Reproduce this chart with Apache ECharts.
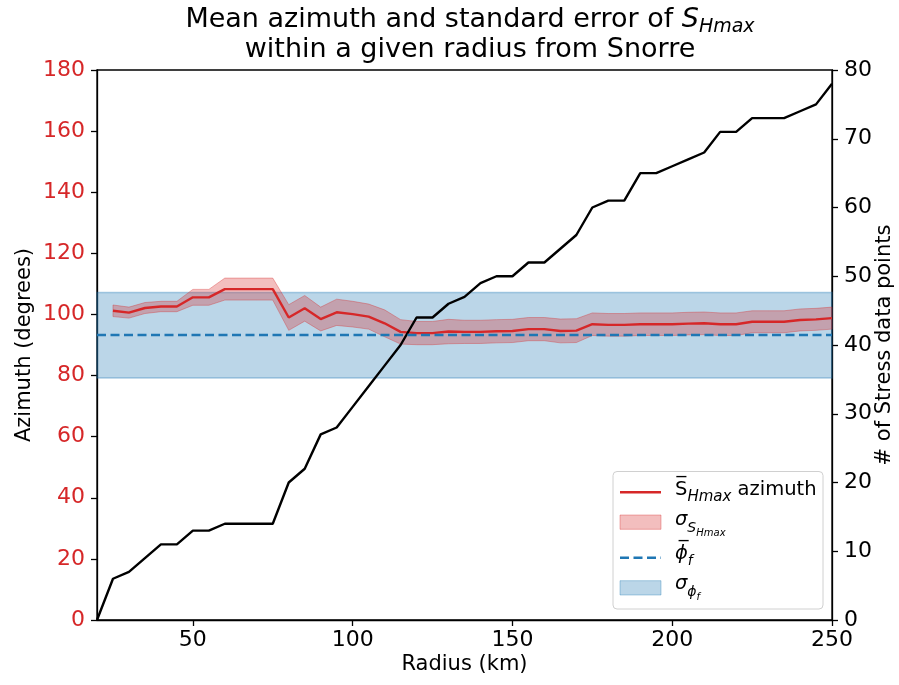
<!DOCTYPE html>
<html>
<head>
<meta charset="utf-8">
<script src="https://cdn.jsdelivr.net/npm/echarts@6/dist/echarts.min.js"></script>
<style>html,body{margin:0;padding:0;background:#fff;overflow:hidden}#c{width:899px;height:685px}</style>
</head>
<body>
<div id="c"></div>
<script>
// Radius (km) for the data-point count
const radius = [20,25,30,35,40,45,50,55,60,65,70,75,80,85,90,95,100,105,110,115,120,125,130,135,140,145,150,155,160,165,170,175,180,185,190,195,200,205,210,215,220,225,230,235,240,245,250];
// Number of stress data points within radius
const counts = [0,6,7,9,11,11,13,13,14,14,14,14,20,22,27,28,31,34,37,40,44,44,46,47,49,50,50,52,52,54,56,60,61,61,65,65,66,67,68,71,71,73,73,73,74,75,78];
// Radius for azimuth stats (starts at 25 km)
const radiusAz = [25,30,35,40,45,50,55,60,65,70,75,80,85,90,95,100,105,110,115,120,125,130,135,140,145,150,155,160,165,170,175,180,185,190,195,200,205,210,215,220,225,230,235,240,245,250];
// Mean SHmax azimuth (degrees)
const meanAz = [101.2,100.6,102.1,102.6,102.6,105.6,105.6,108.3,108.3,108.3,108.3,99.0,102.0,98.5,100.7,100.1,99.3,97.1,94.3,93.9,93.9,94.4,94.3,94.3,94.5,94.6,95.2,95.2,94.6,94.7,96.8,96.6,96.6,96.8,96.8,96.8,97.0,97.1,96.8,96.8,97.6,97.6,97.6,98.2,98.4,98.8];
// Standard error (half-width of band)
const stdErr = [1.9,1.8,1.8,1.7,1.7,2.6,2.6,3.6,3.6,3.6,3.6,4.2,4.2,3.9,4.3,4.2,4.1,4.4,4.0,3.8,3.8,4.0,3.8,3.8,3.8,3.8,3.8,3.8,3.9,3.9,3.7,3.7,3.7,3.7,3.7,3.7,3.7,3.7,3.7,3.7,3.6,3.6,3.6,3.6,3.6,3.6];
// Fault azimuth mean and its sigma
const phiMean = 93.2;
const phiSigma = 14.0;
// Tick values
const xTicks = [50,100,150,200,250];

const RED = '#d62728', BLUE = '#1f77b4';
const FONT = 'DejaVu Sans';

const bandData = radiusAz.map((r,i)=>[r, meanAz[i]-stdErr[i], meanAz[i]+stdErr[i]]);
const meanData = radiusAz.map((r,i)=>[r, meanAz[i]]);
const countData = radius.map((r,i)=>[r, counts[i]]);

const chart = echarts.init(document.getElementById('c'), null, {renderer:'canvas'});

const legendFont = 19.5;
const mainTok = (pb)=>({fontFamily:FONT, fontSize:legendFont, color:'#000', verticalAlign:'bottom', padding:[0,0,pb,0]});
const subTok = (fs,pb)=>({fontFamily:FONT, fontSize:fs, fontStyle:'italic', color:'#000', verticalAlign:'bottom', padding:[0,0,pb,0]});

function renderBand(params, api){
  if (params.dataIndex !== 0) return null;
  const up = [], lo = [];
  for (let i=0;i<bandData.length;i++){
    up.push(api.coord([bandData[i][0], bandData[i][2]]));
    lo.push(api.coord([bandData[i][0], bandData[i][1]]));
  }
  const poly = up.concat(lo.slice().reverse());
  return {type:'group', children:[
    {type:'polygon', shape:{points:poly}, style:{fill:'rgba(214,39,40,0.3)', stroke:'rgba(214,39,40,0.35)', lineWidth:1}}
  ]};
}

chart.setOption({
  animation:false,
  backgroundColor:'#fff',
  title:{
    text:'{t|Mean azimuth and standard error of }{i|S}{s|Hmax}\n{t|within a given radius from Snorre}',
    left:465, top:2, textAlign:'center',
    textStyle:{
      fontFamily:FONT, fontSize:27, fontWeight:'normal', color:'#000', lineHeight:30,
      rich:{
        t:{fontFamily:FONT, fontSize:27, color:'#000', verticalAlign:'bottom', padding:[0,0,4,0], lineHeight:30},
        i:{fontFamily:FONT, fontSize:27, fontStyle:'italic', color:'#000', verticalAlign:'bottom', padding:[0,0,4,0], lineHeight:30},
        s:{fontFamily:FONT, fontSize:19, fontStyle:'italic', color:'#000', verticalAlign:'bottom', padding:[0,0,0,0], lineHeight:22}
      }
    }
  },
  grid:{left:97, right:67, top:70, bottom:65, show:true, borderColor:'#000', borderWidth:1.3, backgroundColor:'transparent', containLabel:false, outerBoundsMode:'none'},
  xAxis:{
    type:'value', min:20, max:250,
    name:'Radius (km)', nameLocation:'middle', nameGap:34, nameMoveOverlap:false,
    nameTextStyle:{fontFamily:FONT, fontSize:21, color:'#000'},
    axisLine:{show:true, lineStyle:{color:'#000', width:1.3}},
    axisTick:{show:true, length:6, lineStyle:{color:'#000', width:1.3}, customValues:xTicks},
    axisLabel:{fontFamily:FONT, fontSize:22, color:'#000', margin:9, customValues:xTicks},
    splitLine:{show:false}
  },
  yAxis:[{
    type:'value', min:0, max:180, interval:20, position:'left',
    name:'Azimuth (degrees)', nameLocation:'middle', nameGap:62, nameRotate:90, nameMoveOverlap:false,
    nameTextStyle:{fontFamily:FONT, fontSize:21, color:'#000'},
    axisLine:{show:true, lineStyle:{color:'#000', width:1.3}},
    axisTick:{show:true, length:6, lineStyle:{color:'#000', width:1.3}},
    axisLabel:{fontFamily:FONT, fontSize:22, color:RED, margin:12},
    splitLine:{show:false}
  },{
    type:'value', min:0, max:80, interval:10, position:'right',
    name:'# of Stress data points', nameLocation:'middle', nameGap:42, nameRotate:90, nameMoveOverlap:false,
    nameTextStyle:{fontFamily:FONT, fontSize:21, color:'#000'},
    axisLine:{show:true, lineStyle:{color:'#000', width:1.3}},
    axisTick:{show:true, length:6, lineStyle:{color:'#000', width:1.3}},
    axisLabel:{fontFamily:FONT, fontSize:22, color:'#000', margin:12},
    splitLine:{show:false}
  }],
  series:[
    {
      name:'phi', type:'line', yAxisIndex:0, data:[[20,null]], z:1, silent:true, showSymbol:false,
      markArea:{silent:true, itemStyle:{color:'rgba(31,119,180,0.3)', borderColor:'rgba(31,119,180,0.35)', borderWidth:1.5},
        data:[[{yAxis:phiMean-phiSigma},{yAxis:phiMean+phiSigma}]]},
      markLine:{silent:true, symbol:'none', label:{show:false},
        lineStyle:{color:BLUE, type:[9,4.5], width:2.4},
        data:[{yAxis:phiMean}]}
    },
    {
      name:'band', type:'custom', yAxisIndex:0, data:bandData, z:2, silent:true,
      encode:{x:0, y:[1,2]}, renderItem:renderBand
    },
    {
      name:'mean', type:'line', yAxisIndex:0, data:meanData, showSymbol:false, z:3,
      lineStyle:{color:RED, width:2.4}
    },
    {
      name:'count', type:'line', yAxisIndex:1, data:countData, showSymbol:false, z:4,
      lineStyle:{color:'#000', width:2.4}
    }
  ],
  graphic:[
    {type:'rect', z:100, shape:{x:613, y:471.5, width:210, height:137.5, r:4},
      style:{fill:'rgba(255,255,255,0.85)', stroke:'#d0d0d0', lineWidth:1}},
    {type:'line', z:101, shape:{x1:620, y1:492.3, x2:661, y2:492.3}, style:{stroke:RED, lineWidth:2.4}},
    {type:'rect', z:101, shape:{x:620, y:515, width:41, height:14.3}, style:{fill:'rgba(214,39,40,0.3)', stroke:'rgba(214,39,40,0.35)', lineWidth:1}},
    {type:'line', z:101, shape:{x1:620, y1:557.7, x2:661, y2:557.7}, style:{stroke:BLUE, lineWidth:2.4, lineDash:[9,4.5]}},
    {type:'rect', z:101, shape:{x:620, y:580.7, width:41, height:14.3}, style:{fill:'rgba(31,119,180,0.3)', stroke:'rgba(31,119,180,0.35)', lineWidth:1}},
    {type:'text', z:101, x:675, y:492, style:{
      text:'{m|S\u0305}{s|Hmax}{m| azimuth}', verticalAlign:'middle', align:'left',
      rich:{m:mainTok(5), s:subTok(15,0)}}},
    {type:'text', z:101, x:675, y:524, style:{
      text:'{g|σ}{s|S}{ss|Hmax}', verticalAlign:'middle', align:'left',
      rich:{g:{fontFamily:FONT, fontSize:legendFont, fontStyle:'italic', color:'#000', verticalAlign:'bottom', padding:[0,0,8,0]}, s:subTok(14,3), ss:subTok(10,0)}}},
    {type:'text', z:101, x:675, y:556, style:{
      text:'{g|ϕ\u0305}{s|f}', verticalAlign:'middle', align:'left',
      rich:{g:{fontFamily:FONT, fontSize:legendFont, fontStyle:'italic', color:'#000', verticalAlign:'bottom', padding:[0,0,5,0]}, s:subTok(14,0)}}},
    {type:'text', z:101, x:675, y:588, style:{
      text:'{g|σ}{s|ϕ}{ss|f}', verticalAlign:'middle', align:'left',
      rich:{g:{fontFamily:FONT, fontSize:legendFont, fontStyle:'italic', color:'#000', verticalAlign:'bottom', padding:[0,0,8,0]}, s:subTok(14,3), ss:subTok(10,0)}}}
  ]
});
</script>
</body>
</html>
